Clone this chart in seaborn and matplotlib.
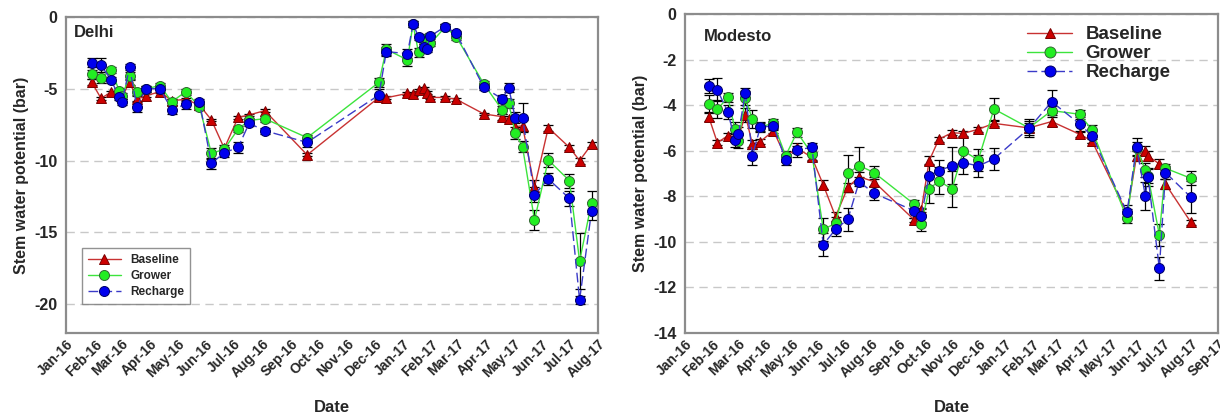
import numpy as np
import pandas as pd
import matplotlib
matplotlib.use("Agg")
import matplotlib.pyplot as plt
import matplotlib.dates as mdates
import seaborn as sns

# ---------------- data (days since 2016-01-01) ----------------
delhi_days = [28, 38, 49, 58, 61, 69, 77, 87, 102, 115, 130, 145, 158, 172, 187, 199, 216, 262,
              340, 348, 371, 377, 383, 389, 392, 396, 412, 424, 454, 474, 481, 488, 496, 509,
              524, 547, 558, 571]
delhi_baseline = [-4.55, -5.66, -5.24, -5.3, -5.6, -4.5, -5.73, -5.48, -5.2, -5.83, -5.73, -6.13,
                  -7.17, -9.15, -6.99, -6.82, -6.52, -9.6,
                  -5.6, -5.62, -5.32, -5.39, -5.08, -4.97, -5.27, -5.6, -5.6, -5.73, -6.75, -6.94,
                  -7.1, -7.64, -7.57, -11.86, -7.71, -9.08, -10.0, -8.87]
delhi_grower = [-3.99, -4.22, -3.69, -5.15, -5.5, -4.1, -5.2, -4.99, -4.78, -5.9, -5.2, -6.24,
                -9.5, -9.2, -7.8, -7.2, -7.08, -8.4,
                -4.55, -2.25, -2.99, -0.5, -2.46, -1.7, -1.49, -1.84, -0.7, -1.37, -4.67, -6.48,
                -6.01, -8.06, -9.03, -14.14, -9.96, -11.4, -16.99, -12.93]
delhi_recharge = [-3.18, -3.34, -4.39, -5.6, -5.9, -3.5, -6.24, -4.99, -4.99, -6.45, -6.08, -5.92,
                  -10.19, -9.45, -9.08, -7.4, -7.92, -8.73,
                  -5.43, -2.41, -2.55, -0.49, -1.37, -2.11, -2.23, -1.32, -0.67, -1.14, -4.9, -5.71,
                  -4.92, -7.01, -7.01, -12.37, -11.28, -12.63, -19.7, -13.5]
delhi_baseline_err = [0.2, 0.1, 0.1, 0.1, 0.1, 0.2, 0.2, 0.1, 0.1, 0.1, 0.1, 0.1,
                      0.1, 0.1, 0.1, 0.1, 0.1, 0.1,
                      0.1, 0.1, 0.1, 0.1, 0.1, 0.1, 0.1, 0.1, 0.1, 0.1, 0.1, 0.2,
                      0.2, 0.4, 0.4, 0.5, 0.2, 0.2, 0.2, 0.2]
delhi_grower_err = [0.3, 0.4, 0.2, 0.2, 0.2, 0.3, 0.2, 0.2, 0.2, 0.2, 0.2, 0.2,
                    0.4, 0.3, 0.2, 0.2, 0.2, 0.2,
                    0.3, 0.4, 0.4, 0.2, 0.3, 0.2, 0.2, 0.2, 0.2, 0.2, 0.2, 0.3,
                    0.3, 0.4, 0.4, 0.7, 0.5, 0.5, 1.95, 0.8]
delhi_recharge_err = [0.3, 0.5, 0.2, 0.2, 0.2, 0.2, 0.4, 0.2, 0.2, 0.3, 0.3, 0.2,
                      0.4, 0.3, 0.4, 0.2, 0.2, 0.3,
                      0.4, 0.3, 0.3, 0.2, 0.2, 0.2, 0.2, 0.2, 0.2, 0.2, 0.2, 0.3,
                      0.3, 0.4, 1.0, 0.5, 0.4, 0.5, 0.3, 0.6]

modesto_days = [27, 37, 49, 57, 61, 69, 77, 86, 101, 115, 128, 145, 158, 172, 186, 199, 216,
                262, 270, 279, 290, 305, 318, 335, 353, 393, 419, 451, 465, 505, 516, 526, 529,
                542, 549, 578]
modesto_baseline = [-4.5, -5.65, -5.34, -5.38, -5.4, -4.43, -5.72, -5.6, -5.13, -6.26, -5.89, -6.29,
                    -7.5, -8.89, -7.61, -7.14, -7.36,
                    -9.04, -8.6, -6.44, -5.5, -5.21, -5.24, -5.06, -4.8, -5.0, -4.72, -5.28, -5.57,
                    -8.75, -6.23, -6.0, -6.23, -6.58, -7.46, -9.14]
modesto_grower = [-3.96, -4.18, -3.66, -5.05, -5.57, -3.7, -4.62, -4.95, -4.8, -6.22, -5.19, -6.14,
                  -9.45, -9.19, -6.99, -6.65, -6.96,
                  -8.35, -9.21, -7.7, -7.31, -7.69, -6.0, -6.41, -4.17, -5.0, -4.24, -4.4, -5.09,
                  -8.97, -5.9, -6.85, -7.1, -9.7, -6.77, -7.21]
modesto_recharge = [-3.15, -3.33, -4.31, -5.53, -5.27, -3.45, -6.22, -4.97, -4.91, -6.41, -5.97, -5.85,
                    -10.12, -9.45, -9.01, -7.36, -7.87,
                    -8.64, -8.85, -7.09, -6.89, -6.65, -6.52, -6.67, -6.36, -5.02, -3.85, -4.83, -5.35,
                    -8.7, -5.85, -7.99, -7.14, -11.16, -6.96, -8.04]
modesto_baseline_err = [0.2, 0.1, 0.1, 0.1, 0.1, 0.3, 0.2, 0.1, 0.1, 0.1, 0.1, 0.1,
                        0.2, 0.2, 0.2, 0.2, 0.2,
                        0.1, 0.1, 0.2, 0.1, 0.1, 0.1, 0.1, 0.1, 0.2, 0.2, 0.1, 0.1,
                        0.2, 0.2, 0.2, 0.2, 0.2, 0.2, 0.1]
modesto_grower_err = [0.4, 0.4, 0.2, 0.3, 0.3, 0.3, 0.4, 0.2, 0.2, 0.2, 0.2, 0.3,
                      0.5, 0.3, 0.8, 0.8, 0.3,
                      0.2, 0.3, 0.6, 0.6, 0.8, 0.6, 0.5, 0.5, 0.3, 0.2, 0.2, 0.2,
                      0.2, 0.3, 0.3, 0.3, 0.5, 0.2, 0.3]
modesto_recharge_err = [0.3, 0.5, 0.3, 0.3, 0.3, 0.2, 0.4, 0.2, 0.2, 0.2, 0.3, 0.2,
                        0.5, 0.3, 0.5, 0.2, 0.3,
                        0.3, 0.3, 0.5, 0.5, 0.8, 0.5, 0.5, 0.5, 0.4, 0.5, 0.3, 0.3,
                        0.3, 0.4, 0.6, 0.4, 0.5, 0.3, 0.7]

treatments = ["Baseline", "Grower", "Recharge"]
start = pd.Timestamp("2016-01-01")

# ---------------- style ----------------
sns.set_style("white")
plt.rcParams["font.family"] = ["Liberation Sans", "DejaVu Sans"]
plt.rcParams["font.weight"] = "bold"
plt.rcParams["axes.unicode_minus"] = False

styles = {
    "Baseline": dict(color="#c83232", marker="^", mfc="#cc0000", mec="#7a0000", ls="-", lw=1.0),
    "Grower": dict(color="#3ce43c", marker="o", mfc="#22ee22", mec="#336633", ls="-", lw=1.0),
    "Recharge": dict(color="#3a3ac8", marker="o", mfc="#0000ee", mec="#000066", ls=(0, (7, 3)), lw=1.0),
}

fig = plt.figure(figsize=(12.2, 4.18), dpi=100)
ax1 = fig.add_axes([66 / 1220, 1 - 333 / 418, 532 / 1220, 316 / 418])
ax2 = fig.add_axes([685 / 1220, 1 - 333 / 418, 533 / 1220, 319 / 418])


def draw(ax, days, series, errs):
    dates = start + pd.to_timedelta(days, unit="D")
    for name in treatments:
        st = styles[name]
        vals = series[name]
        ax.errorbar(dates, vals, yerr=errs[name], fmt="none", ecolor="black",
                    elinewidth=0.9, capsize=3.5, capthick=0.9, zorder=2)
        df = pd.DataFrame({"date": dates, "value": vals})
        sns.lineplot(data=df, x="date", y="value", ax=ax, color=st["color"],
                     marker=st["marker"], markersize=7.2 if st["marker"] == "o" else 6.8,
                     markerfacecolor=st["mfc"], markeredgecolor=st["mec"], markeredgewidth=0.7,
                     linestyle=st["ls"], linewidth=st["lw"], errorbar=None, sort=False,
                     label=name, zorder=3)


draw(ax1, delhi_days,
     {"Baseline": delhi_baseline, "Grower": delhi_grower, "Recharge": delhi_recharge},
     {"Baseline": delhi_baseline_err, "Grower": delhi_grower_err, "Recharge": delhi_recharge_err})
draw(ax2, modesto_days,
     {"Baseline": modesto_baseline, "Grower": modesto_grower, "Recharge": modesto_recharge},
     {"Baseline": modesto_baseline_err, "Grower": modesto_grower_err, "Recharge": modesto_recharge_err})

ax1.set_xlim(pd.Timestamp("2016-01-01"), pd.Timestamp("2017-08-01"))
ax2.set_xlim(pd.Timestamp("2016-01-01"), pd.Timestamp("2017-09-01"))
ax1.set_ylim(-22, 0)
ax2.set_ylim(-14, 0)
ax1.set_yticks([0, -5, -10, -15, -20])
ax2.set_yticks([0, -2, -4, -6, -8, -10, -12, -14])

for ax in (ax1, ax2):
    ax.xaxis.set_major_locator(mdates.MonthLocator())
    ax.xaxis.set_major_formatter(mdates.DateFormatter("%b-%y"))
    ax.tick_params(axis="x", direction="in", length=4, width=1, color="#555555",
                   labelsize=10, pad=3)
    ax.tick_params(axis="y", direction="out", length=4, width=1, color="#555555",
                   labelsize=11.5, pad=2)
    for lab in ax.get_xticklabels():
        lab.set_rotation(45)
        lab.set_ha("right")
        lab.set_rotation_mode("anchor")
        lab.set_fontweight("bold")
    for lab in ax.get_yticklabels():
        lab.set_fontweight("bold")
    for sp in ax.spines.values():
        sp.set_color("#8c8c8c")
        sp.set_linewidth(1.6)
    ax.yaxis.grid(True, linestyle=(0, (6, 4)), color="#c8c8c8", linewidth=1.0)
    ax.xaxis.grid(False)
    ax.set_axisbelow(True)
    ax.set_xlabel("Date", fontsize=12, fontweight="bold", labelpad=14)
    ax.set_ylabel("Stem water potential (bar)", fontsize=11.5, fontweight="bold", labelpad=4)

ax1.text(0.015, 0.95, "Delhi", transform=ax1.transAxes, fontsize=12, fontweight="bold",
         va="center", ha="left")
ax2.text(0.035, 0.93, "Modesto", transform=ax2.transAxes, fontsize=12, fontweight="bold",
         va="center", ha="left")

leg1 = ax1.legend(loc="lower left", bbox_to_anchor=(0.03, 0.092), borderaxespad=0,
                  fontsize=8.5, frameon=True, fancybox=False, edgecolor="#777777",
                  handlelength=2.8, borderpad=0.5, labelspacing=0.35, handletextpad=0.8)
leg1.get_frame().set_linewidth(1.0)
for t in leg1.get_texts():
    t.set_fontweight("bold")
leg2 = ax2.legend(loc="upper right", bbox_to_anchor=(0.925, 0.985), borderaxespad=0,
                  fontsize=13.5, frameon=False, handlelength=2.4, labelspacing=0.1,
                  handletextpad=0.7, markerscale=1.1)
for t in leg2.get_texts():
    t.set_fontweight("bold")

fig.savefig("out.png", dpi=100, facecolor="white")
